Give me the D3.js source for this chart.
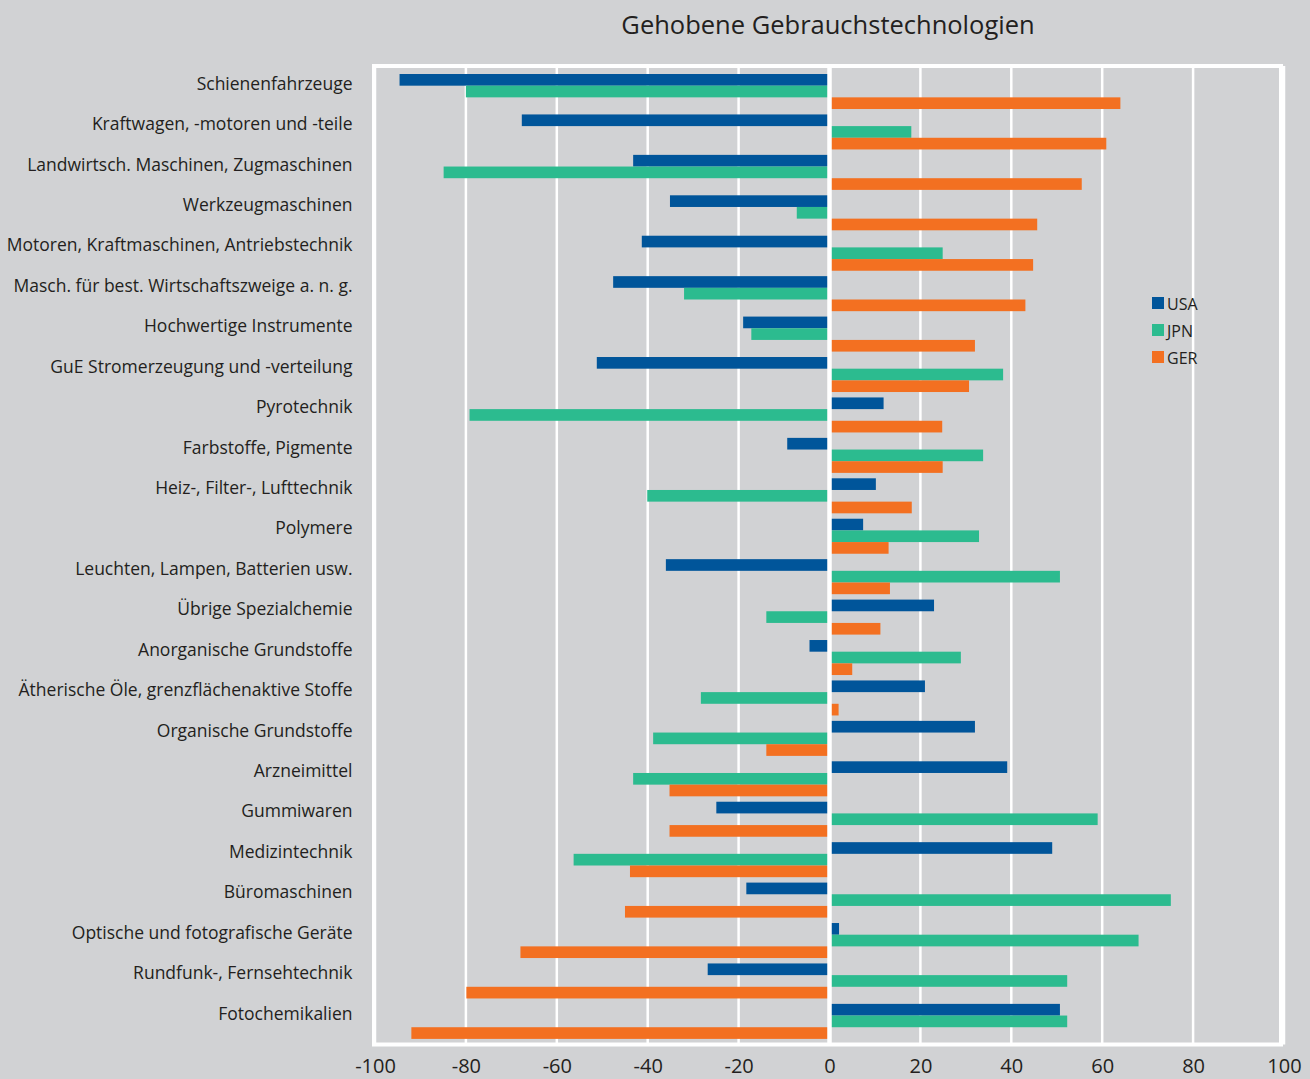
<!DOCTYPE html>
<html>
<head>
<meta charset="utf-8">
<script src="https://cdn.jsdelivr.net/npm/d3@7"></script>
<style>
  body { margin: 0; background: #d1d2d4; }
  svg { display: block; font-family: "Open Sans", sans-serif; }
</style>
</head>
<body>
<script>
var categories = ["Schienenfahrzeuge", "Kraftwagen, -motoren und -teile", "Landwirtsch. Maschinen, Zugmaschinen",
  "Werkzeugmaschinen", "Motoren, Kraftmaschinen, Antriebstechnik", "Masch. für best. Wirtschaftszweige a. n. g.",
  "Hochwertige Instrumente", "GuE Stromerzeugung und -verteilung", "Pyrotechnik", "Farbstoffe, Pigmente",
  "Heiz-, Filter-, Lufttechnik", "Polymere", "Leuchten, Lampen, Batterien usw.", "Übrige Spezialchemie",
  "Anorganische Grundstoffe", "Ätherische Öle, grenzflächenaktive Stoffe", "Organische Grundstoffe",
  "Arzneimittel", "Gummiwaren", "Medizintechnik", "Büromaschinen", "Optische und fotografische Geräte",
  "Rundfunk-, Fernsehtechnik", "Fotochemikalien"];

var series = ["USA", "JPN", "GER"];

var usa = [-94.6, -67.7, -43.2, -35.1, -41.3, -47.6, -19.0, -51.2, 11.9, -9.3, 10.2, 7.4,
  -36.0, 23.0, -4.4, 21.0, 32.0, 39.1, -24.9, 49.0, -18.3, 2.1, -26.8, 50.7];
var jpn = [-80.0, 18.0, -84.9, -7.2, 24.9, -32.0, -17.2, 38.2, -79.2, 33.8, -40.1, 32.9,
  50.7, -13.9, 28.9, -28.3, -38.8, -43.2, 59.0, -56.3, 75.1, 68.0, 52.3, 52.3];
var ger = [64.0, 60.9, 55.5, 45.7, 44.8, 43.1, 32.0, 30.7, 24.8, 24.9, 18.1, 13.0,
  13.3, 11.2, 5.0, 2.0, -13.9, -35.2, -35.2, -43.9, -45.0, -68.0, -79.9, -92.0];

var xTicks = [-100, -80, -60, -40, -20, 0, 20, 40, 60, 80, 100];
var title = "Gehobene Gebrauchstechnologien";

var colors = { USA: "#00559a", JPN: "#2cbb8f", GER: "#f37021" };
var values = { USA: usa, JPN: jpn, GER: ger };

var width = 1310, height = 1079;
var plot = { top: 66, bottom: 1044.5 };

var svg = d3.select("body").append("svg")
    .attr("width", width)
    .attr("height", height);

var x = d3.scaleLinear()
    .domain([-100, 100])
    .range([375, 1284]);

var y = d3.scaleBand()
    .domain(categories)
    .range([71.3, 1041.6])
    .paddingInner(0.134)
    .paddingOuter(0.067);

var ySub = d3.scaleBand()
    .domain(series)
    .range([0, y.bandwidth()]);

// gridlines
svg.append("g")
  .selectAll("line")
  .data(xTicks)
  .enter().append("line")
    .attr("x1", function (d) { return x(d); })
    .attr("x2", function (d) { return x(d); })
    .attr("y1", plot.top)
    .attr("y2", plot.bottom)
    .attr("stroke", "#fff")
    .attr("stroke-width", 2.5);

// bars
var rows = [];
categories.forEach(function (c, i) {
  series.forEach(function (s) { rows.push({ cat: c, s: s, v: values[s][i] }); });
});

svg.append("g")
  .selectAll("rect")
  .data(rows)
  .enter().append("rect")
    .attr("x", function (d) { return x(Math.min(0, d.v)); })
    .attr("width", function (d) { return Math.abs(x(d.v) - x(0)); })
    .attr("y", function (d) { return y(d.cat) + ySub(d.s); })
    .attr("height", ySub.bandwidth())
    .attr("fill", function (d) { return colors[d.s]; });

// zero line and frame
svg.append("line")
    .attr("x1", x(0)).attr("x2", x(0))
    .attr("y1", plot.top).attr("y2", plot.bottom)
    .attr("stroke", "#fff").attr("stroke-width", 4.5);

svg.append("rect")
    .attr("x", x(-100) - 1)
    .attr("y", plot.top)
    .attr("width", x(100) - x(-100) - 2)
    .attr("height", plot.bottom - plot.top)
    .attr("fill", "none")
    .attr("stroke", "#fff")
    .attr("stroke-width", 4);

// x axis
var xAxis = d3.axisBottom(x)
    .tickValues(xTicks)
    .tickFormat(function (d) { return String(d); })
    .tickSize(0)
    .tickPadding(12);

var gx = svg.append("g")
    .attr("transform", "translate(0," + (plot.bottom + 2.5) + ")")
    .call(xAxis);
gx.select(".domain").remove();
gx.selectAll("text")
    .attr("font-family", "'Open Sans', sans-serif")
    .attr("font-size", 20)
    .attr("fill", "#231f20");

// y axis
var yAxis = d3.axisLeft(y).tickSize(0).tickPadding(21.5);
var gy = svg.append("g")
    .attr("transform", "translate(374,0)")
    .call(yAxis);
gy.select(".domain").remove();
gy.selectAll("text")
    .attr("font-family", "'Open Sans', sans-serif")
    .attr("font-size", 17.5)
    .attr("fill", "#231f20")
    .attr("dy", "-0.1em");

// title
svg.append("text")
    .attr("x", 828)
    .attr("y", 34)
    .attr("text-anchor", "middle")
    .attr("font-size", 25.5)
    .attr("fill", "#231f20")
    .text(title);

// legend
var legend = svg.append("g").attr("transform", "translate(1152,297)");
series.forEach(function (s, i) {
  legend.append("rect")
      .attr("x", 0).attr("y", i * 27)
      .attr("width", 12).attr("height", 12)
      .attr("fill", colors[s]);
  legend.append("text")
      .attr("x", 15).attr("y", i * 27 + 12.5)
      .attr("font-size", 16)
      .attr("fill", "#231f20")
      .text(s);
});
</script>
</body>
</html>
